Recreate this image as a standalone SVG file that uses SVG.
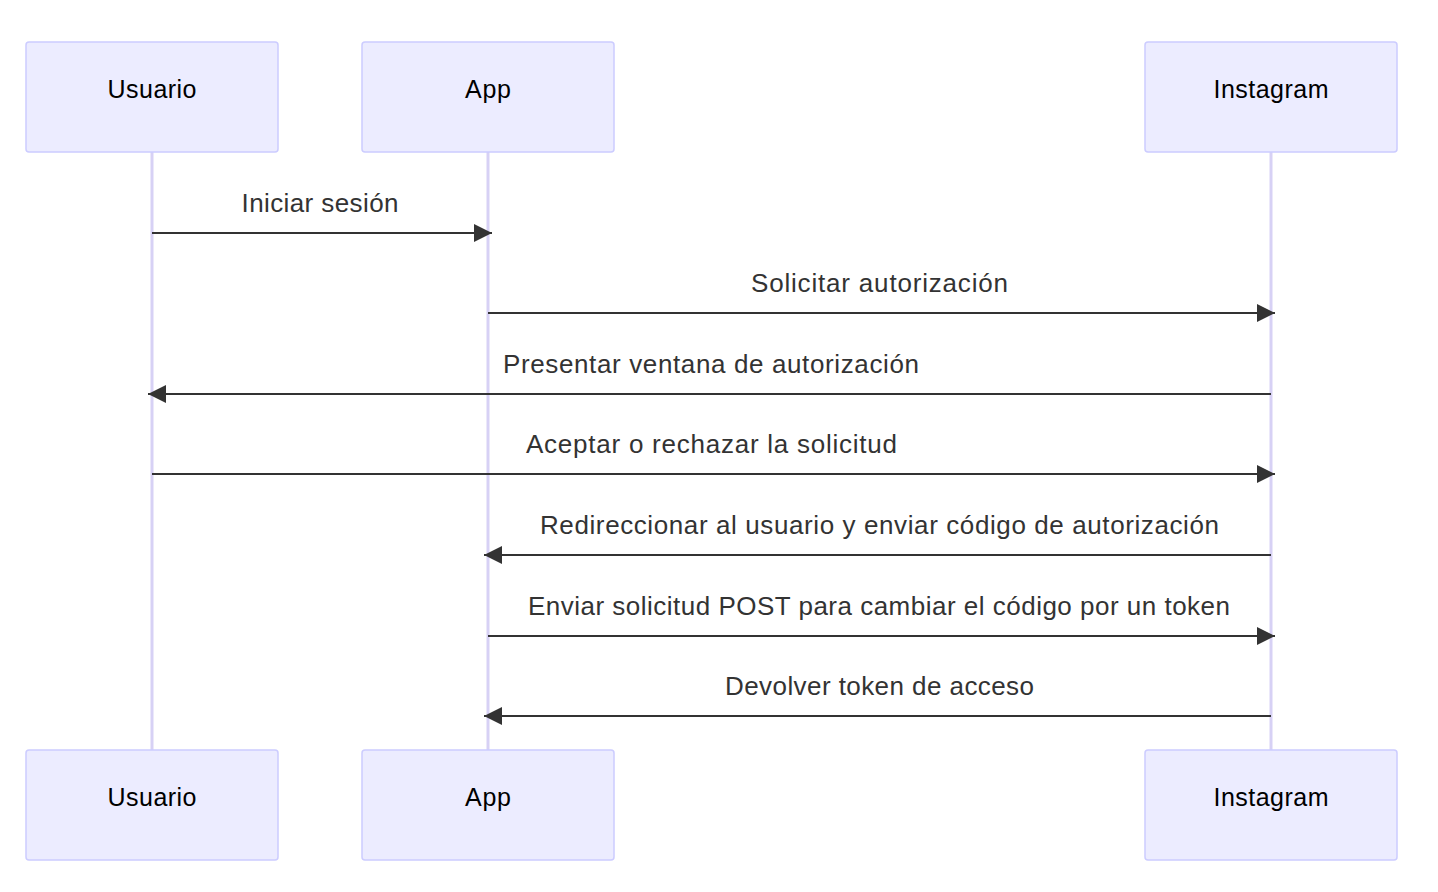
<svg xmlns="http://www.w3.org/2000/svg" width="1438" height="892" viewBox="0 0 1438 892">
<defs>
<style>
.actor{fill:#ECECFF;stroke:#CCCCFF;stroke-width:1.5}
.atext{font-family:"Liberation Sans",Arial,sans-serif;font-size:25px;fill:#000;text-anchor:middle}
.life{stroke:#D7D1F5;stroke-width:3}
.msg{stroke:#333;stroke-width:2.2;fill:none}
.mtext{font-family:"Liberation Sans",Arial,sans-serif;font-size:26px;fill:#333;text-anchor:middle}
</style>
<marker id="ah" markerWidth="18" markerHeight="18" viewBox="0 0 18 18" refX="18" refY="9" orient="auto" markerUnits="userSpaceOnUse">
<path d="M0,0 L18,9 L0,18 z" fill="#333"/>
</marker>
</defs>
<rect width="1438" height="892" fill="#fff"/>
<g id="lifelines">
<line class="life" x1="152" y1="152" x2="152" y2="750"/>
<line class="life" x1="488" y1="152" x2="488" y2="750"/>
<line class="life" x1="1271" y1="152" x2="1271" y2="750"/>
</g>
<g id="actor-usuario-top"><rect class="actor" x="26" y="42" width="252" height="110" rx="3"/><text class="atext" x="152" y="98" textLength="89">Usuario</text></g>
<g id="actor-app-top"><rect class="actor" x="362" y="42" width="252" height="110" rx="3"/><text class="atext" x="488" y="98" textLength="46">App</text></g>
<g id="actor-instagram-top"><rect class="actor" x="1145" y="42" width="252" height="110" rx="3"/><text class="atext" x="1271" y="98" textLength="115">Instagram</text></g>
<g id="actor-usuario-bottom"><rect class="actor" x="26" y="750" width="252" height="110" rx="3"/><text class="atext" x="152" y="806" textLength="89">Usuario</text></g>
<g id="actor-app-bottom"><rect class="actor" x="362" y="750" width="252" height="110" rx="3"/><text class="atext" x="488" y="806" textLength="46">App</text></g>
<g id="actor-instagram-bottom"><rect class="actor" x="1145" y="750" width="252" height="110" rx="3"/><text class="atext" x="1271" y="806" textLength="115">Instagram</text></g>
<g id="messages">
<line class="msg" x1="152" y1="233" x2="492" y2="233" marker-end="url(#ah)"/>
<line class="msg" x1="488" y1="313" x2="1275" y2="313" marker-end="url(#ah)"/>
<line class="msg" x1="1271" y1="394" x2="148" y2="394" marker-end="url(#ah)"/>
<line class="msg" x1="152" y1="474" x2="1275" y2="474" marker-end="url(#ah)"/>
<line class="msg" x1="1271" y1="555" x2="484" y2="555" marker-end="url(#ah)"/>
<line class="msg" x1="488" y1="636" x2="1275" y2="636" marker-end="url(#ah)"/>
<line class="msg" x1="1271" y1="716" x2="484" y2="716" marker-end="url(#ah)"/>
</g>
<g id="message-labels">
<text class="mtext" x="320" y="212" textLength="157">Iniciar sesión</text>
<text class="mtext" x="879.5" y="292" textLength="257">Solicitar autorización</text>
<text class="mtext" x="711" y="373" textLength="416">Presentar ventana de autorización</text>
<text class="mtext" x="711.5" y="453" textLength="371">Aceptar o rechazar la solicitud</text>
<text class="mtext" x="879.5" y="534" textLength="679">Redireccionar al usuario y enviar código de autorización</text>
<text class="mtext" x="879" y="615" textLength="702">Enviar solicitud POST para cambiar el código por un token</text>
<text class="mtext" x="879.5" y="695" textLength="309">Devolver token de acceso</text>
</g>
</svg>
